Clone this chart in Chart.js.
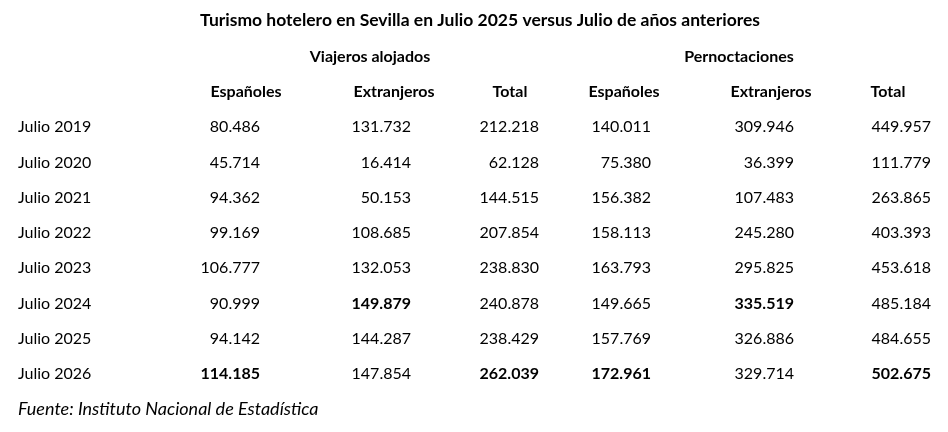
<!DOCTYPE html>
<html><head><meta charset="utf-8">
<script src="https://cdn.jsdelivr.net/npm/chart.js@4"></script>
<style>html,body{margin:0;padding:0;background:#fff}</style>
</head><body>
<canvas id="c" width="948" height="432"></canvas>
<script>
const title = 'Turismo hotelero en Sevilla en Julio 2025 versus Julio de años anteriores';
const groups = ['Viajeros alojados', 'Pernoctaciones'];
const columns = ['Españoles', 'Extranjeros', 'Total', 'Españoles', 'Extranjeros', 'Total'];
const rows = ['Julio 2019','Julio 2020','Julio 2021','Julio 2022','Julio 2023','Julio 2024','Julio 2025','Julio 2026'];
const viajerosEsp = [80486, 45714, 94362, 99169, 106777, 90999, 94142, 114185];
const viajerosExt = [131732, 16414, 50153, 108685, 132053, 149879, 144287, 147854];
const viajerosTot = [212218, 62128, 144515, 207854, 238830, 240878, 238429, 262039];
const pernocEsp = [140011, 75380, 156382, 158113, 163793, 149665, 157769, 172961];
const pernocExt = [309946, 36399, 107483, 245280, 295825, 335519, 326886, 329714];
const pernocTot = [449957, 111779, 263865, 403393, 453618, 485184, 484655, 502675];
const source = 'Fuente: Instituto Nacional de Estadística';

const series = [viajerosEsp, viajerosExt, viajerosTot, pernocEsp, pernocExt, pernocTot];
const colRight = [260, 411, 539, 651, 794, 931];
const colHeadCenter = [246, 394, 510, 624, 771, 888];
const groupCenter = [370, 739];
const FONT = 'Lato, "Open Sans", sans-serif';
const fmt = v => v.toString().replace(/\B(?=(\d{3})+(?!\d))/g, '.');

const datasets = series.map((s, ci) => ({
  data: s.map((v, ri) => ({x: colRight[ci], y: ri, v})),
  pointRadius: 0, showLine: false
}));

const tablePlugin = {
  id: 'table',
  afterDatasetsDraw(chart) {
    const ctx = chart.ctx, xs = chart.scales.x, ys = chart.scales.y;
    ctx.save();
    ctx.fillStyle = '#000';
    ctx.textBaseline = 'middle';
    ctx.font = 'bold 17.5px ' + FONT;
    ctx.textAlign = 'center';
    ctx.fillText(title, xs.getPixelForValue(480), ys.getPixelForValue(-3.03));
    ctx.font = 'bold 16px ' + FONT;
    groups.forEach((g, i) => ctx.fillText(g, xs.getPixelForValue(groupCenter[i]), ys.getPixelForValue(-1.98)));
    columns.forEach((c, i) => ctx.fillText(c, xs.getPixelForValue(colHeadCenter[i]), ys.getPixelForValue(-0.99)));
    ctx.font = '16px ' + FONT;
    ctx.textAlign = 'left';
    rows.forEach((r, i) => ctx.fillText(r, xs.getPixelForValue(18), ys.getPixelForValue(i)));
    ctx.textAlign = 'right';
    chart.data.datasets.forEach((ds, ci) => {
      const mx = Math.max(...series[ci]);
      chart.getDatasetMeta(ci).data.forEach((pt, ri) => {
        const v = ds.data[ri].v;
        ctx.font = (v === mx ? 'bold ' : '') + '16px ' + FONT;
        ctx.fillText(fmt(v), pt.x, pt.y);
      });
    });
    ctx.font = 'italic 18px ' + FONT;
    ctx.textAlign = 'left';
    ctx.fillText(source, xs.getPixelForValue(18), ys.getPixelForValue(7.99));
    ctx.restore();
  }
};

new Chart(document.getElementById('c'), {
  type: 'scatter',
  data: {datasets},
  options: {
    responsive: false, animation: false, devicePixelRatio: 1,
    layout: {padding: 0},
    plugins: {legend: {display: false}, tooltip: {enabled: false}},
    scales: {
      x: {type: 'linear', min: 0, max: 948, display: false},
      y: {type: 'linear', min: -3.6, max: 8.64, reverse: true, display: false}
    }
  },
  plugins: [tablePlugin]
});
</script>
</body></html>
